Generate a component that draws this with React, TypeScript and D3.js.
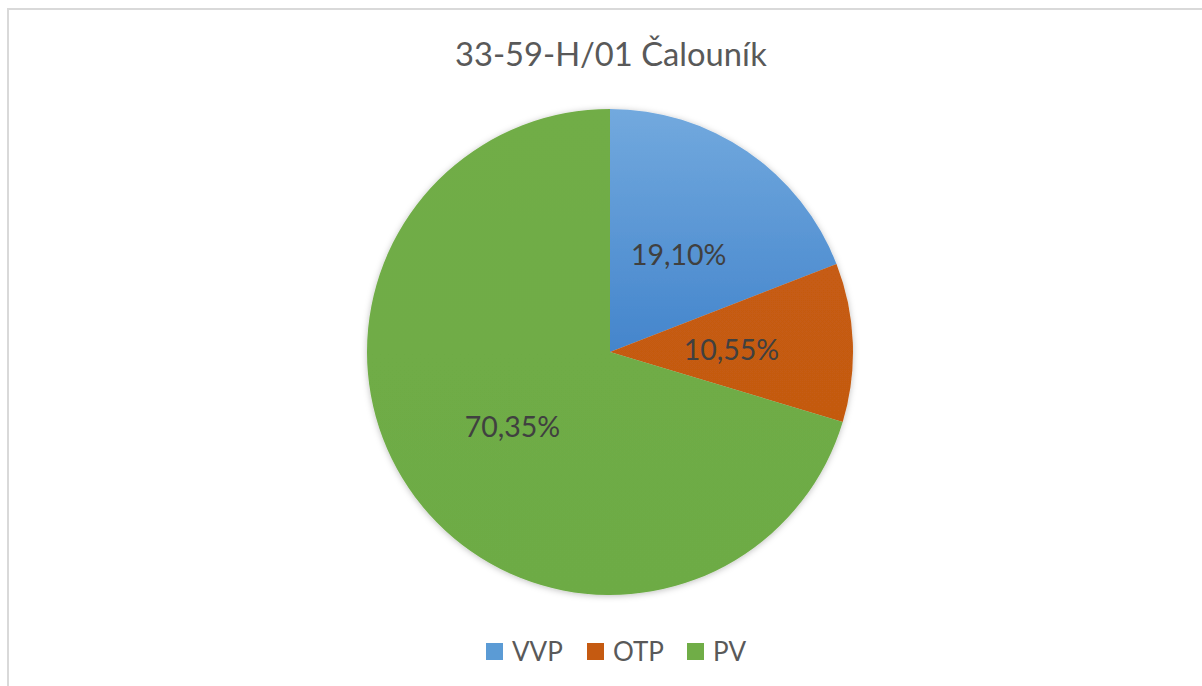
import React from "react";
import * as d3 from "d3";

const categories = ["VVP", "OTP", "PV"];
const values = [19.1, 10.55, 70.35];
const labels = ["19,10%", "10,55%", "70,35%"];
const colors = ["#5b9bd5", "#c55a11", "#70ad47"];
const title = "33-59-H/01 Čalouník";

const W = 1202;
const H = 686;
const cx = 610;
const cy = 352;
const R = 243;
const FONT = "Lato, 'Open Sans', sans-serif";

export default function App() {
  const pie = d3.pie<number>().sort(null).value((d) => d);
  const arcs = pie(values);
  const arc = d3.arc<d3.PieArcDatum<number>>().innerRadius(0).outerRadius(R);
  const labelArc = d3.arc<d3.PieArcDatum<number>>().innerRadius(R * 0.5).outerRadius(R * 0.5);

  const legendXs = [486, 587, 687];

  return (
    <svg
      width={W}
      height={H}
      style={{ position: "absolute", left: 0, top: 0, display: "block", background: "#fff" }}
    >
      <defs>
        <linearGradient id="gBlue" x1="0" y1="0" x2="0" y2="1">
          <stop offset="0" stopColor="#72a9de" />
          <stop offset="1" stopColor="#4485cc" />
        </linearGradient>
        <linearGradient id="gOrange" x1="0" y1="0" x2="0" y2="1">
          <stop offset="0" stopColor="#c65b12" />
          <stop offset="1" stopColor="#c45a11" />
        </linearGradient>
        <linearGradient id="gGreen" x1="0" y1="0" x2="0" y2="1">
          <stop offset="0" stopColor="#71ad47" />
          <stop offset="1" stopColor="#6dab45" />
        </linearGradient>
        <filter id="shadow" x="-10%" y="-10%" width="120%" height="120%">
          <feDropShadow dx="0" dy="1" stdDeviation="3" floodColor="#000" floodOpacity="0.25" />
        </filter>
      </defs>
      <rect x={8} y={9} width={W} height={H} fill="#fff" stroke="#d9d9d9" strokeWidth={2} />
      <text
        x={611}
        y={66}
        textAnchor="middle"
        fontFamily={FONT}
        fontSize={32.7}
        fill="#595959"
      >
        {title}
      </text>
      <g transform={`translate(${cx},${cy})`} filter="url(#shadow)">
        {arcs.map((a, i) => (
          <path
            key={categories[i]}
            d={arc(a) || ""}
            fill={["url(#gBlue)", "url(#gOrange)", "url(#gGreen)"][i]}
          />
        ))}
      </g>
      <g transform={`translate(${cx},${cy})`}>
        {arcs.map((a, i) => {
          const [lx, ly] = labelArc.centroid(a);
          return (
            <text
              key={labels[i]}
              x={lx}
              y={ly + 3}
              dy="0.35em"
              textAnchor="middle"
              fontFamily={FONT}
              fontSize={28.5}
              fill="#404040"
            >
              {labels[i]}
            </text>
          );
        })}
      </g>
      <g>
        {categories.map((c, i) => (
          <g key={c} transform={`translate(${legendXs[i]},643)`}>
            <rect width={17} height={17} fill={colors[i]} />
            <text x={26} y={18} fontFamily={FONT} fontSize={26} fill="#595959">
              {c}
            </text>
          </g>
        ))}
      </g>
    </svg>
  );
}
